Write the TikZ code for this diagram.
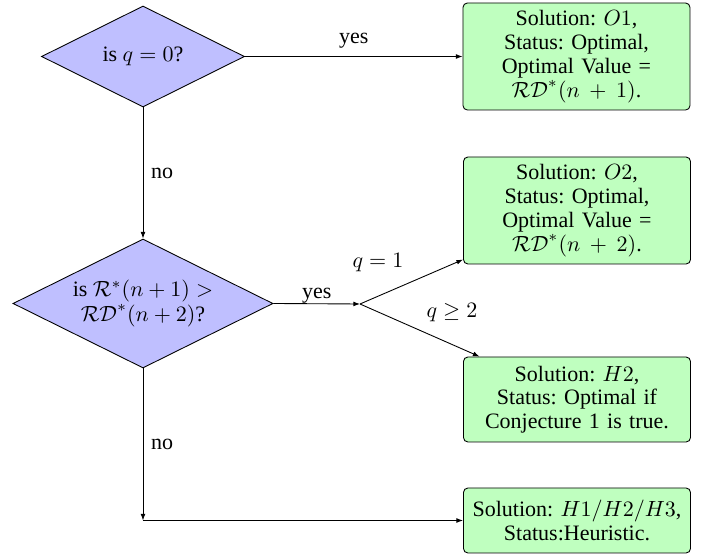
\documentclass[tikz,border=0pt]{standalone}
\usepackage[no-math]{fontspec}
\setmainfont{Liberation Serif}
\usetikzlibrary{shapes.geometric,arrows.meta}
\frenchspacing
\def\u{0.4545pt}
\newcommand\wplus{\mskip2mu+\mskip2mu}
\tikzset{
  decision/.style={diamond, aspect=2, draw=black, fill=blue!25, inner sep=0pt, align=center},
  result/.style={rectangle, draw=black, fill=green!25, rounded corners=2pt,
    minimum width={227*\u}, text width={227*\u-6pt}, inner xsep=3pt, inner ysep=1pt, align=center,
    font=\fontsize{10}{10.8}\selectfont},
  conn/.style={-{Latex[length=3pt,width=2.2pt]}},
  lbl/.style={inner sep=0pt}
}
\begin{document}
\begin{tikzpicture}[x=\u, y=-\u]
\useasboundingbox (0,0) rectangle (709,554);
\node[decision, minimum width={203*\u}, minimum height={101*\u}] (d1) at (143,56.5) {is $q=0$?};
\node[decision, minimum width={260*\u}, minimum height={129*\u}, font=\fontsize{10}{11}\selectfont] (d2) at (143,303.5) {is $\mathcal{R}^*(n+1) >$\\ $\mathcal{RD}^*(n+2)$?};
\node[result, minimum height={107*\u}] (b1) at (576.5,56.5) {Solution: $O1$,\\ Status: Optimal,\\ Optimal Value =\\ $\mathcal{RD}^*(n\wplus 1)$.};
\node[result, minimum height={107*\u}] (b2) at (577,210.5) {Solution: $O2$,\\ Status: Optimal,\\ Optimal Value =\\ $\mathcal{RD}^*(n\wplus 2)$.};
\node[result, minimum height={85*\u}] (b3) at (577,399.5) {Solution: $H2$,\\ Status: Optimal if\\ Conjecture 1 is true.};
\node[result, minimum height={65*\u}] (b4) at (577,520.5) {Solution: $H1/H2/H3$,\\ Status:Heuristic.};
\coordinate (br) at (360,304);
\coordinate (c) at (143,520.5);
\draw[conn] (d1.east) -- node[lbl, above=3.5pt] {yes} (d1.east -| b1.west);
\draw[conn] (d1.south) -- node[lbl, right=3.5pt] {no} (d2.north);
\draw[conn] (d2.east) -- node[lbl, above=0pt] {yes} (br);
\draw[conn] (br) -- (b2);
\draw[conn] (br) -- (b3);
\node[lbl] (l1) at (378,263) {$q=1$};
\node[lbl] (l2) at (452,313) {$q\geq 2$};
\draw[conn] (d2.south) -- node[lbl, right=3.5pt] {no} (c);
\draw[conn] (c) -- (b4.west);
\end{tikzpicture}
\end{document}
